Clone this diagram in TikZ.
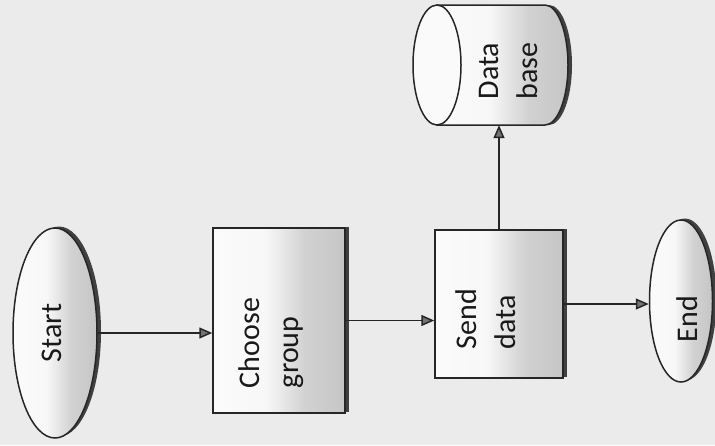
\documentclass[tikz,border=0pt]{standalone}
\usepackage{fontspec}
\setmainfont{Carlito}
\usetikzlibrary{shapes.geometric,arrows.meta,shadows}
\pgfdeclarehorizontalshading{scanfill}{100bp}{color(0bp)=(white); color(45bp)=(black!3); color(60bp)=(black!18); color(100bp)=(black!30)}
\begin{document}
\begin{tikzpicture}[x=1pt,y=-1pt,
  ink/.style={draw=black!85, line width=1.5pt},
  shd/.style={general shadow={fill=black!75, shadow xshift=4pt, shadow yshift=1.5pt}},
  termbox/.style={ellipse, ink, shading=scanfill, shd, inner sep=0pt},
  procbox/.style={rectangle, ink, shading=scanfill, shd, inner sep=0pt},
  lbl/.style={rotate=90, align=left, inner sep=0pt, text=black!90, font=\fontsize{30}{39}\selectfont},
  arr/.style={draw=black!85, line width=1.5pt, -{Triangle[length=13pt,width=11pt,fill=black!55]}}
]
\fill[black!8] (0,0) rectangle (715,445);
\useasboundingbox (0,0) rectangle (715,445);

% Start
\node[termbox, minimum width=84pt, minimum height=210pt] (start) at (55,333) {};
\node[lbl] (startlbl) at (52,333) {Start};

% Choose group
\node[procbox, minimum width=132pt, minimum height=185pt] (choose) at (279,320.5) {};
\node[lbl] (chooselbl) at (271,343) {Choose\\group};

% Send data
\node[procbox, minimum width=128pt, minimum height=148pt] (send) at (499,304) {};
\node[lbl] (sendlbl) at (486,319) {Send\\data};

% Database cylinder
\fill[black!75] (441,5) -- (549,5) arc[start angle=90, end angle=-90, x radius=23pt, y radius=60pt] -- (441,125) -- cycle;
\path[ink, shading=scanfill] (437,5) -- (545,5) arc[start angle=90, end angle=-90, x radius=23pt, y radius=60pt] -- (437,125) -- cycle;
\draw[ink, fill=black!2] (437,65) ellipse[x radius=24pt, y radius=60pt];
\node[draw=none, minimum width=155pt, minimum height=120pt, inner sep=0pt] (db) at (490.5,65) {};
\node[lbl] (dblbl) at (508,71) {Data\\base};

% End
\node[termbox, minimum width=63pt, minimum height=162pt] (end) at (681,301) {};
\node[lbl] (endlbl) at (687,319) {End};

% Connectors
\draw[arr] (start.east) -- (start.east -| choose.west);
\draw[arr] (choose.east) -- (choose.east -| send.west);
\draw[arr] (send.north) -- (send.north |- db.south);
\draw[arr] (send.east) -- (send.east -| end.west);
\end{tikzpicture}
\end{document}
